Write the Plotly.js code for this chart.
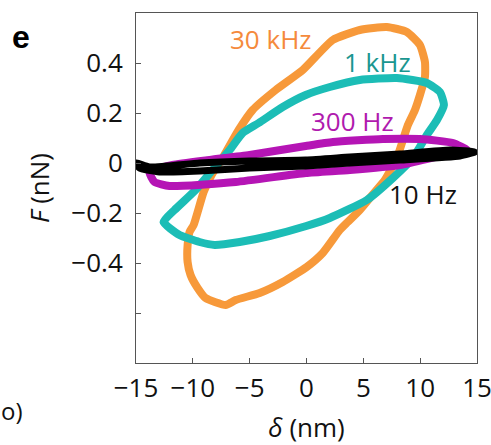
<!DOCTYPE html>
<html>
<head>
<meta charset="utf-8">
<script src="https://cdn.plot.ly/plotly-3.0.1.min.js"></script>
<style>
html,body{margin:0;padding:0;background:#fff;}
#chart{width:491px;height:445px;}
</style>
</head>
<body>
<div id="chart"></div>
<script>
// 30 kHz loop (delta nm, F nN)
var khz30X = [7.07, 8.83, 9.98, 10.42, 10.42, 9.98, 9.54, 8.92, 7.95, 6.89, 6.01, 4.69, 3.63, 2.93, 1.43, 0.02, -2.09, -4.12, -6.23, -7.11, -8.88, -9.58, -10.2, -10.46, -10.46, -10.29, -9.93, -9.05, -8.35, -7.38, -5.97, -4.74, -2.71, -0.33, 2.31, 4.69, 7.07];
var khz30Y = [0.544, 0.524, 0.472, 0.404, 0.344, 0.272, 0.212, 0.152, 0.02, -0.068, -0.116, -0.188, -0.236, -0.268, -0.36, -0.416, -0.476, -0.52, -0.548, -0.568, -0.54, -0.5, -0.448, -0.396, -0.328, -0.276, -0.248, -0.116, -0.048, 0.02, 0.132, 0.212, 0.292, 0.372, 0.492, 0.532, 0.544];
// 1 kHz loop
var khz1X = [-12.58, -11.17, -9.41, -8.08, -5.88, -3.24, -0.02, 2.05, 5.31, 7.6, 9.36, 10.59, 11.48, 12.09, 11.74, 10.59, 7.95, 4.69, 2.05, -0.07, -2.09, -4.21, -5.62, -6.76, -8.26, -9.76, -11.61, -12.58];
var khz1Y = [-0.236, -0.288, -0.316, -0.328, -0.316, -0.292, -0.252, -0.22, -0.148, -0.06, 0.02, 0.112, 0.172, 0.232, 0.284, 0.32, 0.34, 0.332, 0.304, 0.272, 0.224, 0.16, 0.12, 0.052, -0.028, -0.108, -0.188, -0.236];
// 300 Hz loop
var hz300X = [14.12, 12.89, 9.98, 6.72, 2.31, -0.07, -5.0, -8.52, -11.78, -13.81, -13.37, -12.05, -6.23, -0.07, 3.81, 8.22, 11.74, 13.5, 14.12];
var hz300Y = [0.052, 0.08, 0.096, 0.096, 0.084, 0.068, 0.032, 0.012, -0.008, -0.036, -0.076, -0.092, -0.076, -0.04, -0.028, -0.008, 0.028, 0.044, 0.052];
// 10 Hz loop
var hz10X = [-14.96, -13.81, -9.41, -5.0, -0.07, 3.81, 8.22, 12.62, 14.82, 13.5, 8.22, 3.81, -0.07, -5.0, -9.41, -12.93, -14.7, -14.96];
var hz10Y = [0.0, -0.016, 0.0, 0.008, 0.012, 0.024, 0.036, 0.052, 0.044, 0.028, 0.012, 0.0, -0.012, -0.02, -0.032, -0.036, -0.02, 0.0];

var yTickVals = [-0.6, -0.4, -0.2, 0, 0.2, 0.4];
var yTickText = ['', '\u22120.4', '\u22120.2', '0', '0.2', '0.4'];
var xTickVals = [-15, -10, -5, 0, 5, 10, 15];
var xTickText = ['\u221215', '\u221210', '\u22125', '0', '5', '10', '15'];

var FONT = 'Open Sans, Noto Sans, sans-serif';
var FS = 26;

function loop(x, y, color, width) {
  return {x: x, y: y, mode: 'lines', type: 'scatter',
    line: {color: color, width: width, shape: 'spline', smoothing: 0.5},
    hoverinfo: 'skip', showlegend: false};
}

var data = [
  loop(khz30X, khz30Y, '#F7993A', 8),
  loop(khz1X, khz1Y, '#1CBDB6', 8),
  loop(hz300X, hz300Y, '#B515B5', 8),
  loop(hz10X, hz10Y, '#000000', 7)
];

var W = 491, H = 445, L = 136, R = 14, T = 13, B = 82;
function px(x) { return (x - L) / (W - L - R); }
function py(y) { return (H - B - y) / (H - T - B); }
function ann(text, cx, cy, color, size, family, xanchor) {
  return {text: text, x: px(cx), y: py(cy), xref: 'paper', yref: 'paper',
    xanchor: xanchor || 'center', yanchor: 'middle', showarrow: false,
    font: {family: family || FONT, size: size, color: color}};
}

var layout = {
  width: W, height: H,
  margin: {l: L, r: R, t: T, b: B},
  paper_bgcolor: '#fff', plot_bgcolor: '#fff',
  font: {family: FONT, size: FS, color: '#111'},
  xaxis: {
    range: [-15, 15], tickvals: xTickVals, ticktext: xTickText,
    ticks: 'inside', ticklen: 5, tickcolor: '#555', tickwidth: 1,
    showline: true, linecolor: '#555', linewidth: 1, mirror: true,
    showgrid: false, zeroline: false, ticklabelstandoff: 2,
    ticklabeloverflow: 'allow',
    tickfont: {family: FONT, size: FS, color: '#111'},
    title: {text: '<i>δ</i> (nm)', font: {family: FONT, size: FS, color: '#111'}, standoff: 18}
  },
  yaxis: {
    range: [-0.8, 0.6], tickvals: yTickVals, ticktext: yTickText,
    ticks: 'inside', ticklen: 5, tickcolor: '#555', tickwidth: 1,
    showline: true, linecolor: '#555', linewidth: 1, mirror: true,
    showgrid: false, zeroline: false, ticklabelstandoff: 7,
    ticklabeloverflow: 'allow',
    tickfont: {family: FONT, size: FS, color: '#111'},
    title: {text: '<i>F</i> (nN)', font: {family: FONT, size: FS, color: '#111'}, standoff: 14}
  },
  annotations: [
    ann('30 kHz', 271, 39, '#F58A3C', FS),
    ann('1 kHz', 377, 62, '#1A9690', FS),
    ann('300 Hz', 352, 121, '#B01AAE', FS),
    ann('10 Hz', 423, 194, '#111111', FS),
    ann('<b>e</b>', 21, 37, '#000', 32, 'Liberation Sans, Arial, sans-serif'),
    ann('o)', -1, 410, '#111', 24, FONT, 'left')
  ]
};

Plotly.newPlot('chart', data, layout, {displayModeBar: false, staticPlot: true});
</script>
</body>
</html>
